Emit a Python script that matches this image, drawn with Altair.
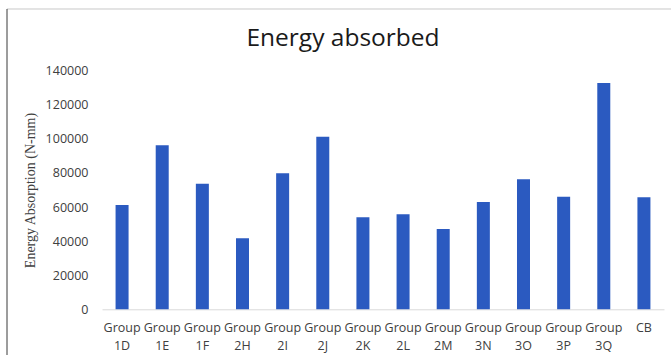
import altair as alt
import pandas as pd

# Energy absorbed per specimen group (N-mm)
groups = ["Group 1D", "Group 1E", "Group 1F", "Group 2H", "Group 2I", "Group 2J",
          "Group 2K", "Group 2L", "Group 2M", "Group 3N", "Group 3O", "Group 3P",
          "Group 3Q", "CB"]
energy = [61200, 96200, 73700, 41700, 79800, 101300, 54000, 55700, 47100,
          63000, 76300, 66100, 132800, 65700]
y_ticks = [0, 20000, 40000, 60000, 80000, 100000, 120000, 140000]
chart_title = "Energy absorbed"

df = pd.DataFrame({"group": groups, "energy": energy})

LABEL_FONT = "Open Sans"
TEXT_COLOR = "#404040"

bars = alt.Chart(df).mark_bar(color="#2B5AC0").encode(
    x=alt.X(
        "group:N",
        sort=groups,
        scale=alt.Scale(paddingInner=0.676, paddingOuter=0.338),
        axis=alt.Axis(
            title=None,
            labelAngle=0,
            labelExpr="split(datum.label, ' ')",
            labelFont=LABEL_FONT,
            labelFontSize=12.5,
            labelColor=TEXT_COLOR,
            labelLineHeight=18,
            labelPadding=12,
            labelBaseline="top",
            ticks=False,
            domainColor="#d9d9d9",
            domainWidth=1,
            grid=False,
        ),
    ),
    y=alt.Y(
        "energy:Q",
        scale=alt.Scale(domain=[0, 140000], nice=False),
        axis=alt.Axis(
            values=y_ticks,
            format="d",
            title="Energy Absorption (N-mm)",
            titleFont="Liberation Serif",
            titleFontSize=14,
            titleFontWeight="normal",
            titleColor=TEXT_COLOR,
            titlePadding=8,
            labelFont=LABEL_FONT,
            labelFontSize=12.5,
            labelColor=TEXT_COLOR,
            labelPadding=14,
            ticks=False,
            domain=False,
            grid=False,
        ),
    ),
)

one_row = alt.Chart(pd.DataFrame({"k": [0]}))

# Chart heading, set above the plot area
heading = one_row.mark_text(
    text=chart_title,
    font=LABEL_FONT,
    fontSize=24.5,
    color="#1a1a1a",
    align="center",
    baseline="alphabetic",
).encode(x=alt.value(241), y=alt.value(-24.5))

# Thin frame lines along the top and left edges of the figure
top_rule = one_row.mark_rule(color="#c8c8c8", strokeWidth=1).encode(
    x=alt.value(-95), x2=alt.value(575), y=alt.value(-61.7)
)
left_rule = one_row.mark_rule(color="#3a3a3a", strokeWidth=1).encode(
    x=alt.value(-95), y=alt.value(-61.7), y2=alt.value(290)
)

chart = alt.layer(bars, heading, top_rule, left_rule).properties(
    width=562,
    height=238.6,
    autosize=alt.AutoSizeParams(type="none"),
    padding={"left": 102, "top": 70.7, "right": 7, "bottom": 45.7},
    background="white",
).configure_view(stroke=None)

chart.save("out.html", embed_options={"renderer": "svg", "actions": False})
